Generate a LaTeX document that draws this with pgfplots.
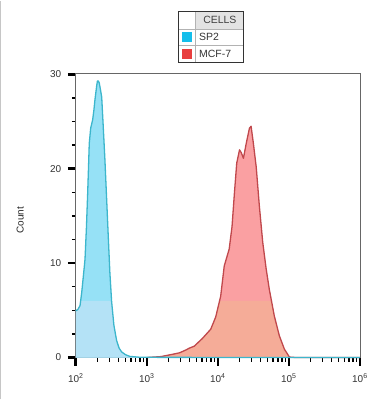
\documentclass[border=0pt]{standalone}
\usepackage{pgfplots}
\pgfplotsset{compat=1.18}
\usepackage{fontspec}
\setmainfont{Liberation Sans}
\definecolor{cyanup}{RGB}{150,225,246}
\definecolor{cyanlow}{RGB}{180,226,246}
\definecolor{cyanline}{RGB}{60,182,204}
\definecolor{redup}{RGB}{250,160,162}
\definecolor{redlow}{RGB}{245,172,152}
\definecolor{redline}{RGB}{192,72,76}
\definecolor{swcyan}{RGB}{20,190,235}
\definecolor{swred}{RGB}{232,62,62}
\pgfplotstableread{
x y
100 4.95
107.2 5.1
114.8 5.5
121.3 6.9
127.4 8.5
134.9 10.4
141.3 13.8
147.2 17.5
154.9 22.7
162.2 24.3
173.0 25.2
179.9 26.2
186.2 27.3
197.2 28.8
201.8 29.3
207.5 29.3
213.8 29.1
218.8 28.7
231.7 27.6
243.8 24.4
257.0 21.0
272.3 16.7
286.4 12.9
302.0 9.0
319.9 5.9
344.4 3.4
375.8 1.8
407.4 1.0
441.6 0.6
501.2 0.3
575.4 0.12
794.3 0.03
1000 0.02
10000 0.01
1000000 0
}\sptwo
% lower (lighter) band of the SP2 peak, below count 6
\pgfplotstableread{
x y
100 4.95
107.2 5.1
114.8 5.5
117.5 6
318 6
319.9 5.9
344.4 3.4
375.8 1.8
407.4 1.0
441.6 0.6
501.2 0.3
575.4 0.12
794.3 0.03
1000 0.02
}\sptwolow
\pgfplotstableread{
x y
1000 0
1259 0.05
1585 0.1
1995 0.25
2512 0.4
2884 0.5
3548 0.8
3981 1.0
4645 1.2
6026 2.0
7943 3.0
9333 4.3
10965 6.5
12303 9.7
14454 11.5
15849 13.9
17140 17.5
18450 20.6
20184 22.0
21380 21.7
22909 21.1
25119 22.7
27861 24.3
29376 24.5
31623 22.7
34674 20.2
38459 16.0
42855 12.2
47863 9.4
53088 7.2
62373 4.4
73451 2.3
86298 0.9
101625 0.05
125893 0
1000000 0
}\mcf
% lower (lighter) band of the MCF-7 peak, below count 6
\pgfplotstableread{
x y
1000 0
1259 0.05
1585 0.1
1995 0.25
2512 0.4
2884 0.5
3548 0.8
3981 1.0
4645 1.2
6026 2.0
7943 3.0
9333 4.3
10550 6
57000 6
62373 4.4
73451 2.3
86298 0.9
101625 0.05
125893 0
}\mcflow
\begin{document}
\begin{tikzpicture}
\path (0pt,0pt) rectangle (379pt,400pt);
\draw[gray!45, line width=1.2pt] (0.6pt,0pt) -- (0.6pt,400pt);
\begin{axis}[
  at={(76pt,42pt)}, anchor=south west,
  scale only axis, width=285pt, height=285pt,
  xmode=log, xmin=100, xmax=1000000, ymin=0, ymax=30.1,
  clip=false,
  axis line style={gray!80!black, line width=0.7pt},
  tick align=outside,
  xtick pos=lower, ytick pos=left,
  xtick={100,1000,10000,100000,1000000},
  xticklabels={10\textsuperscript{2},10\textsuperscript{3},10\textsuperscript{4},10\textsuperscript{5},10\textsuperscript{6}},
  minor xtick={200,300,400,500,600,700,800,900,2000,3000,4000,5000,6000,7000,8000,9000,20000,30000,40000,50000,60000,70000,80000,90000,200000,300000,400000,500000,600000,700000,800000,900000},
  ytick={0,10,20,30},
  yticklabels={0,10,20,30},
  minor ytick={2.5,5,7.5,12.5,15,17.5,22.5,25,27.5},
  major tick length=8pt, minor tick length=4pt,
  major tick style={black, line width=2.6pt},
  minor tick style={black, line width=1.3pt},
  tick label style={text=black!80},
  xticklabel style={font=\fontsize{10}{11}\selectfont, yshift=-5pt},
  yticklabel style={font=\fontsize{10}{11}\selectfont, xshift=-3pt},
  ylabel={Count},
  ylabel style={font=\fontsize{10}{11}\selectfont, text=black!85, at={(axis description cs:-0.196,0.484)}, anchor=center},
]
\addplot[fill=redup, draw=none] table {\mcf} \closedcycle;
\addplot[fill=redlow, draw=none] table {\mcflow} \closedcycle;
\addplot[fill=cyanup, draw=none] table {\sptwo} \closedcycle;
\addplot[fill=cyanlow, draw=none] table {\sptwolow} \closedcycle;
\addplot[redline, line width=1.3pt, line join=round] table {\mcf};
\addplot[cyanline, line width=1.3pt, line join=round] table {\sptwo};
\end{axis}
% legend
\begin{scope}[font=\fontsize{10.5}{12}\selectfont]
\fill[gray!22] (196pt,371.7pt) rectangle (244pt,389pt);
\draw[gray!60, line width=0.6pt] (179.3pt,371.7pt) -- (244pt,371.7pt) (179.3pt,355pt) -- (244pt,355pt) (196pt,338.3pt) -- (196pt,389pt);
\draw[black!80, line width=1.1pt] (179.3pt,338.3pt) rectangle (244pt,389pt);
\fill[swcyan] (183pt,358pt) rectangle (193pt,368pt);
\fill[swred] (183pt,341pt) rectangle (193pt,351pt);
\node[anchor=center, text=black!75] at (220.5pt,380.3pt) {CELLS};
\node[anchor=west, inner sep=0pt, text=black!80] at (199.5pt,363.3pt) {SP2};
\node[anchor=west, inner sep=0pt, text=black!80] at (199.5pt,346.6pt) {MCF-7};
\end{scope}
\end{tikzpicture}
\end{document}
